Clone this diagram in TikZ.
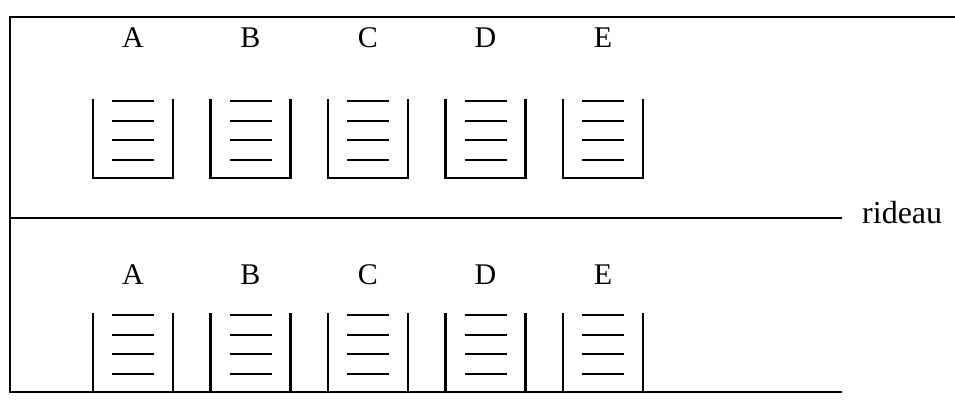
\documentclass[tikz,border=0pt]{standalone}
\usepackage{fontspec}
\setmainfont{Liberation Serif}
\begin{document}
\begin{tikzpicture}[x=1bp,y=1bp]
  \path[use as bounding box] (0,0) rectangle (955,399);
  \fill[white] (0,0) rectangle (955,399);

  \tikzset{
    frameline/.style={line width=2.4bp,draw=black},
    tray/.style={line width=2.8bp,draw=black},
    sheet/.style={line width=2.6bp,draw=black},
    letter/.style={anchor=base,inner sep=0pt,
      font=\fontsize{30bp}{30bp}\selectfont},
    caption/.style={anchor=base west,inner sep=0pt,
      font=\fontsize{32bp}{32bp}\selectfont},
  }

  % Frame & rideau
  \coordinate (topleft) at (10,382);
  \coordinate (topright) at (955,382);
  \coordinate (botleft) at (10,7);
  \coordinate (botright) at (842,7);
  \coordinate (midleft) at (10,181);
  \coordinate (midright) at (842,181);
  \draw[frameline] (topright) -- (topleft) -- (botleft) -- (botright);
  \draw[frameline] (midleft) -- (midright);
  \node[caption] (rideau) at (862,176) {rideau};

  % Trays, upper and lower row
  \foreach \i/\name in {0/A,1/B,2/C,3/D,4/E} {
    \pgfmathsetmacro\cx{133+117.5*\i}
    % upper
    \node[letter] (up\name) at (\cx,352) {\name};
    \draw[tray] ({\cx-40},300) -- ({\cx-40},221) -- ({\cx+40},221) -- ({\cx+40},300);
    \foreach \h in {18,38,57,77} {
      \draw[sheet] ({\cx-21},{221+\h}) -- ({\cx+21},{221+\h});
    }
    % lower
    \node[letter] (low\name) at (\cx,115) {\name};
    \draw[tray] ({\cx-40},86) -- ({\cx-40},7) -- ({\cx+40},7) -- ({\cx+40},86);
    \foreach \h in {18,38,57,77} {
      \draw[sheet] ({\cx-21},{7+\h}) -- ({\cx+21},{7+\h});
    }
  }

\end{tikzpicture}
\end{document}
